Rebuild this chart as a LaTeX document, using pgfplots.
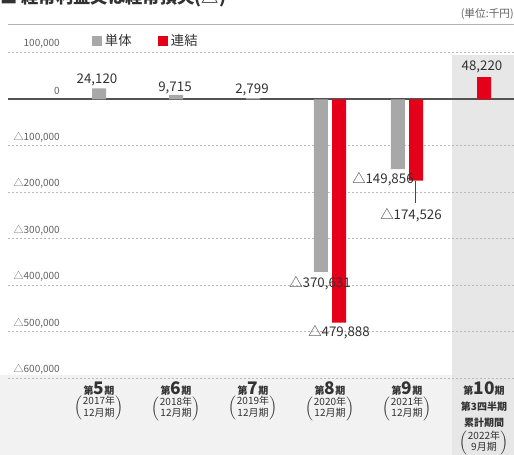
\documentclass[border=0pt]{standalone}
\usepackage{fontspec}
\setmainfont{Noto Sans CJK JP}
\usepackage{pgfplots}
\pgfplotsset{compat=1.18}
\definecolor{barGray}{RGB}{168,168,168}
\definecolor{barRed}{RGB}{228,0,24}
\definecolor{txt}{RGB}{50,50,50}
\definecolor{gridc}{RGB}{185,185,185}
\definecolor{bandc}{RGB}{242,242,242}
\definecolor{colc}{RGB}{231,231,231}

% category label: small 第, large number, small 期
\newcommand\ki[1]{{\bfseries\fontsize{7.5}{9}\selectfont 第}{\bfseries\fontsize{13}{14}\selectfont #1}{\bfseries\fontsize{7.5}{9}\selectfont 期}}
\newcommand\yr[2]{{\fontsize{7.5}{9}\selectfont\renewcommand\arraystretch{0.95}$\left(\begin{tabular}{@{}c@{}}#1\\#2\end{tabular}\right)$}}

\begin{document}
\begin{tikzpicture}
\begin{axis}[
  set layers, clip=false,
  scale only axis, width=379.5pt, height=244.125pt,
  xmin=-1.1818, xmax=5.3896, ymin=-600000, ymax=100000,
  axis line style={draw=none}, major tick length=0pt,
  xtick={0,...,5},
  xticklabels={
    {\ki{5}\\\yr{2017年}{12月期}},
    {\ki{6}\\\yr{2018年}{12月期}},
    {\ki{7}\\\yr{2019年}{12月期}},
    {\ki{8}\\\yr{2020年}{12月期}},
    {\ki{9}\\\yr{2021年}{12月期}},
    {\ki{10}\\{\bfseries\fontsize{7.5}{9}\selectfont 第3四半期}\\{\bfseries\fontsize{7.5}{9}\selectfont 累計期間}\\[1.5pt]\yr{2022年}{9月期}}},
  xticklabel style={anchor=north, yshift=-2.5pt, align=center, inner sep=0pt, text=txt},
  ytick={-600000,-500000,-400000,-300000,-200000,-100000,100000},
  yticklabels={{△600,000},{△500,000},{△400,000},{△300,000},{△200,000},{△100,000},{100,000}},
  yticklabel style={anchor=east, inner sep=0pt, xshift=39pt, yshift=6.75pt,
    font=\fontsize{7.5}{8}\selectfont, text=gray!75!black},
  scaled y ticks=false,
  ymajorgrids, grid style={gridc, dash pattern=on 1.5pt off 1.5pt, line width=0.75pt},
  extra y ticks={0}, extra y tick labels={0},
  extra y tick style={grid style={solid, line width=1.5pt, gray!65!black}},
  legend style={at={(0.166,1.037)}, anchor=west, draw=none, fill=none,
    legend columns=2, inner sep=0pt, font=\fontsize{10}{11}\selectfont, text=txt,
    /tikz/every even column/.append style={column sep=18pt}},
]
\pgfonlayer{axis background}
\fill[bandc] (axis cs:-1.2857,-592473) rectangle (axis cs:4.584,-764516);
\fill[colc] (axis cs:4.584,95699) rectangle (axis cs:5.3896,-764516);
\endpgfonlayer

\addplot[ybar, bar width=10.5pt, bar shift=0pt, fill=barGray, draw=none,
  legend image code/.code={\fill[barGray] (0pt,-3.75pt) rectangle (7.5pt,3.75pt);}]
  coordinates {(0,24120)(1,9715)(2,2799)(2.88,-370631)(3.88,-149856)};
\addlegendentry{単体}
\addplot[ybar, bar width=10.5pt, bar shift=0pt, fill=barRed, draw=none,
  legend image code/.code={\fill[barRed] (0pt,-3.75pt) rectangle (7.5pt,3.75pt);}]
  coordinates {(3.12,-479888)(4.12,-174526)(5,48220)};
\addlegendentry{連結}

\draw[barRed, line width=0.4pt] (axis cs:4.104,-175269) -- (axis cs:4.104,-222581);

\begin{scope}[every node/.style={font=\fontsize{10}{12}\selectfont, text=txt, inner sep=0pt}]
\node at (axis cs:-0.026,41935) {24,120};
\node at (axis cs:0.987,24731) {9,715};
\node at (axis cs:1.987,20430) {2,799};
\node at (axis cs:4.974,69892) {48,220};
\node at (axis cs:3.688,-170968) {△149,856};
\node at (axis cs:4.052,-248387) {△174,526};
\node at (axis cs:2.870,-394624) {△370,631};
\node at (axis cs:3.117,-500000) {△479,888};
\end{scope}

\draw[gray!60, line width=0.75pt] (axis cs:-1.1818,160215) -- (axis cs:5.3896,160215);
\node[anchor=west, font=\bfseries\fontsize{13}{14}\selectfont, inner sep=0pt, text=txt]
  at (axis cs:-1.2857,218280) {■ 経常利益又は経常損失(△)};
\node[anchor=east, font=\fontsize{8}{9}\selectfont, inner sep=0pt, text=gray!75!black]
  at (axis cs:5.3896,183871) {(単位:千円)};

\coordinate (BL) at (axis cs:-1.2857,-764516);
\coordinate (TR) at (axis cs:5.3896,213978);
\end{axis}
\pgfresetboundingbox
\useasboundingbox (BL) rectangle (TR);
\end{tikzpicture}
\end{document}
